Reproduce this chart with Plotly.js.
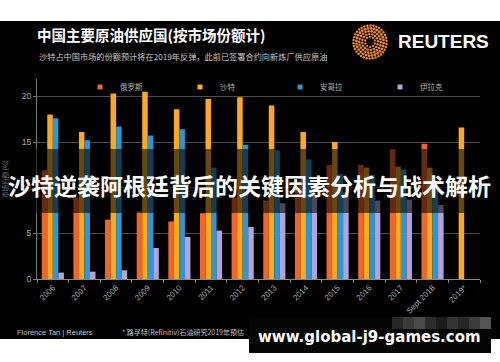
<!DOCTYPE html>
<html>
<head>
<meta charset="utf-8">
<script src="https://cdn.plot.ly/plotly-3.0.1.min.js"></script>
<style>html,body{margin:0;padding:0;background:#fff;}#chart{width:500px;height:362px;}</style>
</head>
<body>
<div id="chart"></div>
<script>
// ---- data ----
var categories = ['2006','2007','2008','2009','2010','2011','2012','2013','2014','2015','2016','2017','Sept 2018','2019*'];
var russia = [11.9, 8.9, 6.5, 7.4, 6.3, 7.2, 8.9, 8.6, 10.7, 12.5, 12.5, 14.2, 14.8, null];
var saudi  = [18.0, 16.1, 20.3, 20.5, 18.6, 19.7, 19.9, 19.0, 16.1, 15.0, 12.2, 12.3, 12.2, 16.6];
var angola = [17.6, 15.2, 16.7, 15.7, 16.4, 12.2, 14.7, 14.1, 13.1, 11.5, 11.4, 12.0, 10.5, null];
var iraq   = [0.7, 0.8, 0.95, 3.4, 4.6, 5.3, 5.7, 8.3, 9.1, 9.5, 8.6, 8.7, 8.1, null];
var seriesNames = ['俄罗斯', '沙特', '安哥拉', '伊拉克'];
var yTicks = [0, 5, 10, 15, 20];

var colors = ['#F0652A', '#FBAA1F', '#2A97D6', '#B4A3D8'];
var values = [russia, saudi, angola, iraq];

var W = 500, H = 362, L = 37, R = 20, T = 79, B = 83;
var PW = W - L - R, PH = H - T - B;
function px(x){ return (x - L) / PW; }
function py(y){ return (H - B - y) / PH; }

var cjk = '"Noto Sans CJK SC", "Noto Sans", sans-serif';

var traces = values.map(function(v, i){
  return {type:'bar', x: categories, y: v, name: seriesNames[i], showlegend:false,
          marker:{color: colors[i], line:{width:0}}, hoverinfo:'skip'};
});
// small square legend keys (no data points)
values.forEach(function(v, i){
  traces.push({type:'scatter', mode:'markers', x:[null], y:[null], name: seriesNames[i],
               marker:{symbol:'square', size:5, color: colors[i]}, hoverinfo:'skip', showlegend:true});
});

// Reuters dotted logo as svg image
function logoSvg(){
  var s = '<svg xmlns="http://www.w3.org/2000/svg" width="100" height="100" viewBox="0 0 100 100">';
  var rings = [[14,10,3.2],[22,16,3.4],[30,22,3.6],[38,28,3.8],[46,34,3.4]];
  rings.forEach(function(r){
    for (var k=0;k<r[1];k++){
      var a = 2*Math.PI*k/r[1] + (r[0]%8)*0.05;
      var cx = 50 + r[0]*Math.cos(a), cy = 50 + r[0]*Math.sin(a);
      s += '<circle cx="'+cx.toFixed(2)+'" cy="'+cy.toFixed(2)+'" r="'+r[2]+'" fill="#F28C1E"/>';
    }
  });
  s += '</svg>';
  return 'data:image/svg+xml;base64,' + btoa(s);
}

var shapes = [
  // top white strip
  {type:'rect', xref:'paper', yref:'paper', x0:px(-5), x1:px(505), y0:py(21), y1:py(-5), fillcolor:'#ffffff', line:{width:0}, layer:'above'},
  // bottom white strip
  {type:'rect', xref:'paper', yref:'paper', x0:px(-5), x1:px(505), y0:py(367), y1:py(339), fillcolor:'#ffffff', line:{width:0}, layer:'above'},
  // banner band
  {type:'rect', xref:'paper', yref:'paper', x0:px(-5), x1:px(505), y0:py(213), y1:py(149), fillcolor:'rgba(0,0,0,0.58)', line:{width:0}, layer:'above'},
  // watermark box
  {type:'rect', xref:'paper', yref:'paper', x0:px(249), x1:px(491), y0:py(353), y1:py(317), fillcolor:'#050505', line:{width:0}, layer:'above'}
];
// mosaic squares at top right of watermark box
var mosaic = ['#262626','#3a3a3a','#4a4a4a','#2c2c2c','#1c1c1c','#333333','#262626','#3c3c3c','#555555'];
for (var m=0;m<mosaic.length;m++){
  var x0 = 392 + m*11;
  shapes.push({type:'rect', xref:'paper', yref:'paper', x0:px(x0), x1:px(x0+11), y0:py(329), y1:py(317), fillcolor:mosaic[m], line:{width:0}, layer:'above'});
}

var annotations = [
  {text:'沙特占中国市场的份额预计将在2019年反弹，此前已签署合约向新炼厂供应原油', xref:'paper', yref:'paper', x:px(37), y:py(56), xanchor:'left', yanchor:'middle', showarrow:false, font:{family:cjk, size:8.2, color:'#c8c8c8'}},
  {text:'REUTERS', xref:'paper', yref:'paper', x:px(396), y:py(42), xanchor:'left', yanchor:'middle', showarrow:false, font:{family:'"Liberation Sans", Arial, sans-serif', size:19, color:'#ffffff', weight:'bold'}},
  {text:'Florence Tan | Reuters', xref:'paper', yref:'paper', x:px(15), y:py(332), xanchor:'left', yanchor:'middle', showarrow:false, font:{family:'"Liberation Sans", Arial, sans-serif', size:7.5, color:'#c0c0c0'}},
  {text:'* 路孚特(Refinitiv)石油研究2019年预估', xref:'paper', yref:'paper', x:px(120), y:py(332), xanchor:'left', yanchor:'middle', showarrow:false, font:{family:cjk, size:7, color:'#c0c0c0'}},
  {text:'沙特逆袭阿根廷背后的关键因素分析与战术解析', xref:'paper', yref:'paper', x:px(249), y:py(185), xanchor:'center', yanchor:'middle', showarrow:false, font:{family:cjk, size:23, color:'#ffffff', weight:'bold'}},
  {text:'www.global-j9-games.com', xref:'paper', yref:'paper', x:px(369), y:py(337), xanchor:'center', yanchor:'middle', showarrow:false, font:{family:'"DejaVu Sans", Verdana, sans-serif', size:15, color:'#ffffff', weight:'bold'}}
];

var layout = {
  width: W, height: H,
  margin: {l:L, r:R, t:T, b:B, pad:0, autoexpand:false},
  paper_bgcolor: '#000000', plot_bgcolor: '#000000',
  font: {family: cjk, color:'#aaaaaa', size:8},
  title: {text:'中国主要原油供应国(按市场份额计)', xref:'container', yref:'container', x:37/W, y:1-36/H, xanchor:'left', yanchor:'middle',
          font:{family:cjk, size:14.5, color:'#ffffff', weight:'bold'}},
  barmode: 'group', bargap: 0.3, bargroupgap: 0,
  showlegend: true,
  legend: {orientation:'h', xref:'paper', yref:'paper', x:px(80), y:py(87), xanchor:'left', yanchor:'middle',
           entrywidth:55, entrywidthmode:'pixels', font:{family:cjk, size:7.5, color:'#b0b0b0'}, bgcolor:'rgba(0,0,0,0)', itemwidth:30},
  xaxis: {type:'category', tickson:'boundaries', ticks:'outside', ticklen:3, tickcolor:'#888', tickangle:-45,
          showline:true, linecolor:'#888', linewidth:1, showgrid:false, zeroline:false, automargin:false,
          tickfont:{family:'"Liberation Sans", Arial, sans-serif', size:8, color:'#a8a8a8'}, fixedrange:true},
  yaxis: {range:[0, 21.9], tickvals:yTicks, ticktext:yTicks.map(String), ticks:'outside', ticklen:3, tickcolor:'#777',
          showline:true, linecolor:'#777', linewidth:1, gridcolor:'#4a4a4a', gridwidth:1, zeroline:false, automargin:false,
          tickfont:{family:'"Liberation Sans", Arial, sans-serif', size:8.5, color:'#a8a8a8'},
          title:{text:'市场份额 (%)', standoff:12, font:{family:cjk, size:6.5, color:'#777'}}, fixedrange:true},
  shapes: shapes,
  annotations: annotations,
  images: [{source: logoSvg(), xref:'paper', yref:'paper', x:px(352), y:py(24), sizex:36/PW, sizey:36/PH, sizing:'stretch', xanchor:'left', yanchor:'top', layer:'above'}]
};

Plotly.newPlot('chart', traces, layout, {staticPlot:true, displayModeBar:false});
</script>
</body>
</html>
